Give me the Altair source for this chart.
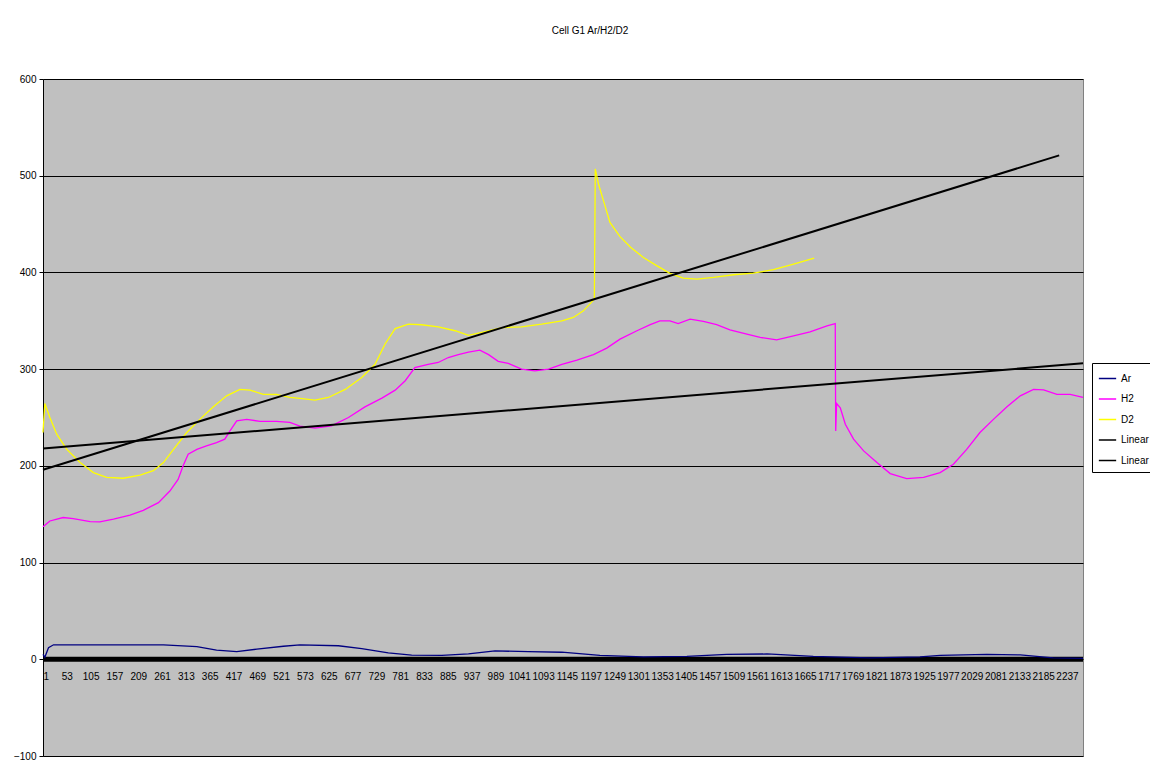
import altair as alt
import pandas as pd

# ---- data (category index, value) ----
ar_cat = [1, 5, 13, 24, 264, 337, 380, 424, 468, 526, 562, 646, 697, 755, 806, 872, 930, 988,
          1061, 1134, 1217, 1312, 1407, 1494, 1582, 1683, 1807, 1916, 1960, 2062, 2135, 2207, 2272]
ar_val = [5, 2, 12, 15, 15, 13, 9.5, 8, 10.5, 13.5, 15, 14, 11, 6.6, 4.3, 4, 5.5, 8.6,
          8, 7.3, 4, 2.4, 3, 5, 5.5, 3, 1.5, 2.4, 4, 5, 4.5, 1.5, 1]

h2_cat = [1, 16, 45, 67, 104, 125, 155, 191, 220, 253, 278, 296, 307, 318, 337, 358, 380, 398, 409, 424,
          446, 475, 511, 540, 562, 595, 631, 668, 704, 741, 770, 792, 813, 842, 864, 886, 908, 930, 955, 974,
          995, 1017, 1046, 1075, 1105, 1134, 1167, 1203, 1232, 1261, 1298, 1327, 1348, 1370, 1388, 1414, 1443,
          1472, 1501, 1538, 1567, 1603, 1640, 1676, 1713, 1731, 1732, 1734, 1742, 1753, 1771, 1793, 1822, 1851,
          1887, 1924, 1960, 1989, 2018, 2047, 2077, 2106, 2135, 2164, 2186, 2215, 2244, 2272]
h2_val = [137, 143, 146.6, 145.5, 142.4, 142, 145, 149, 154, 162, 174, 186, 200, 212, 217, 220.6, 224, 227.6, 236, 246.6,
          248, 246, 246, 245, 241, 239, 241.4, 250, 261, 270, 278.3, 288, 301.7, 305, 306.9, 312, 315, 317.6, 319.7, 315,
          308, 306, 300, 298.3, 300, 305, 309.3, 315, 321.7, 331, 339.7, 346, 350, 350, 347.2, 351.7, 349.3,
          346, 340.7, 336.2, 332.8, 330.3, 334.5, 338.6, 344.8, 347, 236, 264.5, 260, 243, 227.6, 215.5, 203.4, 192,
          186.9, 188, 193, 201.7, 217, 234.5, 248.3, 261, 272.4, 279, 278.6, 274, 274, 270.7]

d2_cat = [1, 5, 16, 31, 53, 82, 111, 140, 176, 213, 242, 264, 286, 315, 344, 373, 402, 431, 453, 482,
          511, 540, 562, 595, 624, 661, 697, 726, 748, 770, 799, 828, 864, 901, 930, 959, 1003, 1046, 1090, 1134,
          1159, 1181, 1203, 1205, 1207, 1214, 1225, 1239, 1261, 1284, 1312, 1341, 1370, 1399, 1429, 1465, 1509,
          1552, 1596, 1640, 1685]
d2_val = [234.5, 264.5, 250, 232.8, 217, 203.4, 193, 188, 187.2, 190.3, 195, 203.4, 217, 234.5, 248.3, 261, 272.4, 279, 278.3, 274,
          273.8, 270.7, 269.7, 268, 270.7, 279, 291.4, 305, 326, 342, 346.6, 345.9, 343.8, 339.7, 335, 338, 343, 343.8, 346.6, 350,
          353.4, 360.3, 371.4, 373, 507, 491.4, 474, 451.7, 437, 426, 415.5, 407, 399, 394.1, 393, 394.8, 397.6,
          399.3, 402.8, 408.6, 414.8]

trend_h2_cat = [1, 2272]
trend_h2_val = [218, 306]
trend_d2_cat = [1, 2220]
trend_d2_val = [196, 521]

series_order = ["Ar", "H2", "D2", "Linear (H2)", "Linear (D2)"]
series_colors = ["#000080", "#FF00FF", "#FFFF00", "#000000", "#000000"]
x_tick_values = list(range(1, 2238, 52))
y_tick_values = list(range(-100, 601, 100))
title_text = "Cell G1 Ar/H2/D2"

FONT = "Liberation Sans"


def frame(cats, vals, name):
    return pd.DataFrame({"cat": cats, "value": vals, "series": name})


df_ar = frame(ar_cat, ar_val, "Ar")
df_h2 = frame(h2_cat, h2_val, "H2")
df_d2 = frame(d2_cat, d2_val, "D2")
df_th2 = frame(trend_h2_cat, trend_h2_val, "Linear (H2)")
df_td2 = frame(trend_d2_cat, trend_d2_val, "Linear (D2)")

x_enc = alt.X("cat:Q",
              scale=alt.Scale(domain=[1, 2272], nice=False, zero=False),
              axis=alt.Axis(values=x_tick_values, format="d", title=None, offset=-97,
                            domain=False, ticks=False, labelPadding=12, labelOverlap=False,
                            labelFontSize=10, labelFont=FONT, labelColor="black", grid=False))
y_enc = alt.Y("value:Q",
              scale=alt.Scale(domain=[-100, 600], nice=False, zero=False),
              axis=alt.Axis(values=y_tick_values, title=None, grid=True, gridColor="black",
                            gridWidth=1, gridOpacity=1, domainColor="black", tickColor="black",
                            tickSize=4, labelPadding=3, labelFontSize=10, labelFont=FONT,
                            labelColor="black"))
color_enc = alt.Color("series:N",
                      scale=alt.Scale(domain=series_order, range=series_colors),
                      legend=alt.Legend(title=None, orient="none", legendX=1049, legendY=284,
                                        symbolType="stroke", symbolSize=300, symbolStrokeWidth=1.5,
                                        labelFontSize=10, labelFont=FONT, labelColor="black",
                                        strokeColor="black", fillColor="white", padding=6,
                                        rowPadding=5.5, labelLimit=0, cornerRadius=0))

zero_band = alt.Chart(pd.DataFrame({"value": [0]})).mark_rule(color="black", strokeWidth=5).encode(
    y=y_enc)


def series_layer(df, width):
    return alt.Chart(df).mark_line(strokeWidth=width, interpolate="linear").encode(
        x=x_enc, y=y_enc, color=color_enc, order="cat:Q")


chart = alt.layer(
    zero_band,
    series_layer(df_ar, 1.3),
    series_layer(df_d2, 1.3),
    series_layer(df_h2, 1.3),
    series_layer(df_th2, 2),
    series_layer(df_td2, 2),
).properties(
    width=1040,
    height=677,
    autosize=alt.AutoSizeParams(type="none"),
    padding={"left": 35, "top": 71, "right": 67, "bottom": 11},
    title=alt.TitleParams(title_text, fontSize=10, fontWeight="normal", font=FONT,
                          anchor="middle", frame="group", dx=27, offset=38, color="black"),
).configure(background="white").configure_view(fill="#C0C0C0", stroke="#808080", strokeWidth=1)

chart.save("out.html", embed_options={"renderer": "svg", "actions": False})
